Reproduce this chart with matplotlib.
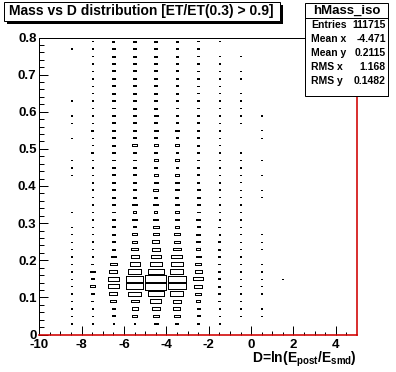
import numpy as np
import matplotlib
matplotlib.use('Agg')
import matplotlib.pyplot as plt
from matplotlib.patches import Rectangle
from matplotlib.collections import PatchCollection

plt.rcParams['font.family'] = 'Liberation Sans'
plt.rcParams['font.weight'] = 'bold'
plt.rcParams['mathtext.fontset'] = 'custom'
plt.rcParams['mathtext.rm'] = 'Liberation Sans:bold'
plt.rcParams['mathtext.bf'] = 'Liberation Sans:bold'

TITLE = 'Mass vs D distribution [ET/ET(0.3) > 0.9]'
HIST_NAME = 'hMass_iso'
stat_labels = ['Entries', 'Mean x', 'Mean y', 'RMS x', 'RMS y']
stat_values = ['111715', '-4.471', '0.2115', '1.168', '0.1482']

# TH2 binning: 15 bins in D, 40 bins in mass
x_edges = np.linspace(-10, 5, 16)
y_edges = np.linspace(0, 0.8, 41)

# bin contents, one list per D bin,
# mass bins from 0.00-0.02 up to 0.78-0.80
counts = {
    -9.5: [0] * 40,
    -8.5: [0, 20, 20, 20, 20, 20, 20, 20, 20, 20, 20, 20, 20, 20, 20, 0, 20, 0, 0, 0,
           0, 20, 20, 20, 0, 0, 20, 0, 20, 20, 0, 20, 0, 0, 0, 0, 0, 0, 20, 0],
    -7.5: [0, 39, 39, 39, 51, 180, 387, 205, 387, 80, 29, 29, 29, 29, 29, 29, 29, 29, 29, 29,
           29, 29, 29, 29, 65, 29, 29, 65, 29, 29, 29, 29, 29, 29, 29, 29, 29, 29, 29, 29],
    -6.5: [0, 51, 115, 180, 627, 1155, 2000, 2000, 1155, 720, 387, 157, 115, 135, 115, 135, 115, 135, 115, 115,
           115, 115, 115, 115, 115, 115, 115, 115, 115, 115, 115, 115, 115, 115, 115, 115, 115, 115, 115, 65],
    -5.5: [0, 51, 461, 627, 1155, 2691, 5511, 5511, 2691, 1843, 1155, 720, 541, 461, 157, 320, 157, 320, 157, 157,
           135, 135, 135, 135, 135, 320, 180, 135, 135, 135, 135, 135, 135, 135, 135, 135, 135, 135, 135, 135],
    -4.5: [0, 259, 627, 1155, 2000, 4500, 8000, 7683, 4500, 2420, 1843, 1155, 819, 720, 541, 461, 205, 387, 180, 387,
           320, 320, 157, 320, 157, 320, 157, 259, 135, 259, 135, 135, 135, 135, 135, 135, 135, 135, 135, 135],
    -3.5: [0, 157, 461, 871, 1411, 2990, 5780, 5780, 2990, 2600, 2160, 980, 720, 627, 387, 387, 180, 320, 157, 320,
           320, 320, 135, 320, 135, 259, 135, 259, 115, 115, 115, 115, 115, 115, 115, 115, 115, 115, 115, 115],
    -2.5: [0, 39, 135, 157, 387, 583, 1155, 1620, 871, 541, 461, 387, 205, 320, 135, 259, 135, 135, 135, 135,
           115, 115, 115, 115, 115, 115, 115, 115, 115, 115, 39, 39, 39, 39, 39, 39, 39, 39, 39, 39],
    -1.5: [0, 29, 39, 39, 80, 97, 97, 97, 97, 97, 97, 97, 97, 39, 65, 29, 29, 29, 29, 29,
           29, 29, 29, 29, 29, 29, 29, 29, 29, 29, 29, 29, 29, 29, 29, 29, 29, 29, 0, 29],
    -0.5: [0, 0, 20, 20, 20, 20, 20, 51, 20, 20, 20, 20, 20, 20, 20, 20, 20, 20, 20, 20,
           20, 20, 20, 20, 20, 0, 0, 0, 20, 20, 20, 20, 20, 0, 20, 20, 0, 20, 0, 0],
    0.5: [0, 0, 20, 20, 0, 20, 20, 20, 20, 20, 0, 20, 20, 20, 0, 0, 0, 0, 20, 20,
          0, 20, 0, 20, 0, 0, 20, 20, 0, 20, 0, 0, 0, 0, 0, 0, 0, 0, 0, 0],
    1.5: [0, 0, 0, 0, 0, 0, 0, 20, 0, 0, 0, 0, 0, 0, 0, 0, 0, 0, 0, 0,
          0, 0, 0, 0, 0, 0, 0, 0, 0, 0, 0, 0, 0, 0, 0, 0, 0, 0, 0, 0],
    2.5: [0] * 40,
    3.5: [0] * 40,
    4.5: [0] * 40,
}

W, H = 396, 372
fig = plt.figure(figsize=(W / 100, H / 100), dpi=100)
fig.patch.set_facecolor('white')


def fx(px):
    return px / W


def fy(py):
    return 1 - py / H


PX = 0.72  # one pixel in points

ax = fig.add_axes([fx(39.3), fy(334.5), (357 - 39.3) / W, (334.5 - 37.5) / H])
ax.set_xlim(-10, 5)
ax.set_ylim(0, 0.8)

# boxes: surface proportional to the bin content
zmax = max(max(v) for v in counts.values())
dx = x_edges[1] - x_edges[0]
dy = y_edges[1] - y_edges[0]
y_centers = 0.5 * (y_edges[:-1] + y_edges[1:])
boxes = []
for xc, col in counts.items():
    for yc, c in zip(y_centers, col):
        if c <= 0:
            continue
        r = np.sqrt(c / zmax)
        boxes.append(Rectangle((xc - 0.5 * dx * r, yc - 0.5 * dy * r), dx * r, dy * r))
ax.add_collection(PatchCollection(boxes, facecolor='none', edgecolor='black',
                                  linewidth=0.9 * PX, antialiased=False))

# frame
for s in ['left', 'top']:
    ax.spines[s].set_color('black')
    ax.spines[s].set_linewidth(1 * PX)
for s in ['bottom', 'right']:
    ax.spines[s].set_color('#d00000')
    ax.spines[s].set_linewidth(1.6 * PX)

ax.set_xticks(np.arange(-10, 5, 2))
ax.set_xticklabels([str(v) for v in range(-10, 5, 2)])
ax.set_xticks(np.arange(-9, 5, 2), minor=True)
ax.set_yticks(np.arange(0, 0.81, 0.1))
ax.set_yticklabels(['0'] + ['%.1f' % v for v in np.arange(0.1, 0.81, 0.1)])
ax.set_yticks(np.arange(0, 0.801, 0.02), minor=True)
ax.tick_params(axis='x', which='major', direction='in', length=9 * PX, width=1 * PX,
               labelsize=9.5, pad=3, top=False)
ax.tick_params(axis='x', which='minor', direction='in', length=4.5 * PX, width=1 * PX, top=False)
ax.tick_params(axis='y', which='major', direction='in', length=9 * PX, width=1 * PX,
               labelsize=9.5, pad=2, right=False)
ax.tick_params(axis='y', which='minor', direction='in', length=4.5 * PX, width=1 * PX, right=False)
# smallest ticks at the half units
half = np.arange(-9.5, 5, 1)
ax.vlines(half, 0, 2.5 / 297, transform=ax.get_xaxis_transform(), color='black',
          linewidth=1 * PX, clip_on=False)

fig.text(fx(357), fy(362.5), r'D=ln(E$_{\mathbf{post}}$/E$_{\mathbf{smd}}$)',
         ha='right', va='baseline', fontsize=10, fontweight='bold')

# title pave with shadow
fig.add_artist(Rectangle((fx(6.5), fy(23.5)), (280 - 3.5) / W, (20.5 - 1.5) / H,
                         transform=fig.transFigure, facecolor='black', edgecolor='none',
                         zorder=10))
fig.add_artist(Rectangle((fx(3.5), fy(20.5)), (280 - 3.5) / W, (20.5 - 1.5) / H,
                         transform=fig.transFigure, facecolor='white', edgecolor='black',
                         linewidth=1 * PX, zorder=11))
fig.text(fx(141.5), fy(11.5), TITLE, ha='center', va='center', fontsize=10,
         fontweight='bold', zorder=12)

# stats pave
sx0, sx1, sy0, sy1 = 305, 388, 3, 96
fig.add_artist(Rectangle((fx(sx0 + 1), fy(sy1 + 1)), (sx1 - sx0) / W, (sy1 - sy0) / H,
                         transform=fig.transFigure, facecolor='black', edgecolor='none',
                         zorder=10))
fig.add_artist(Rectangle((fx(sx0), fy(sy1)), (sx1 - sx0) / W, (sy1 - sy0) / H,
                         transform=fig.transFigure, facecolor='white', edgecolor='black',
                         linewidth=1 * PX, zorder=11))
fig.add_artist(plt.Line2D([fx(sx0), fx(sx1)], [fy(18.3), fy(18.3)], color='black',
                          linewidth=1 * PX, zorder=12))
fig.text(fx((sx0 + sx1) / 2), fy(10.5), HIST_NAME, ha='center', va='center',
         fontsize=9.5, fontweight='bold', zorder=12)
row_y = [25, 39.5, 53, 67, 81]
for lab, val, yy in zip(stat_labels, stat_values, row_y):
    fig.text(fx(311), fy(yy), lab, ha='left', va='center', fontsize=7.5,
             fontweight='bold', zorder=12)
    fig.text(fx(386), fy(yy), val, ha='right', va='center', fontsize=7.5,
             fontweight='bold', zorder=12)

fig.savefig('out.png', dpi=100)
